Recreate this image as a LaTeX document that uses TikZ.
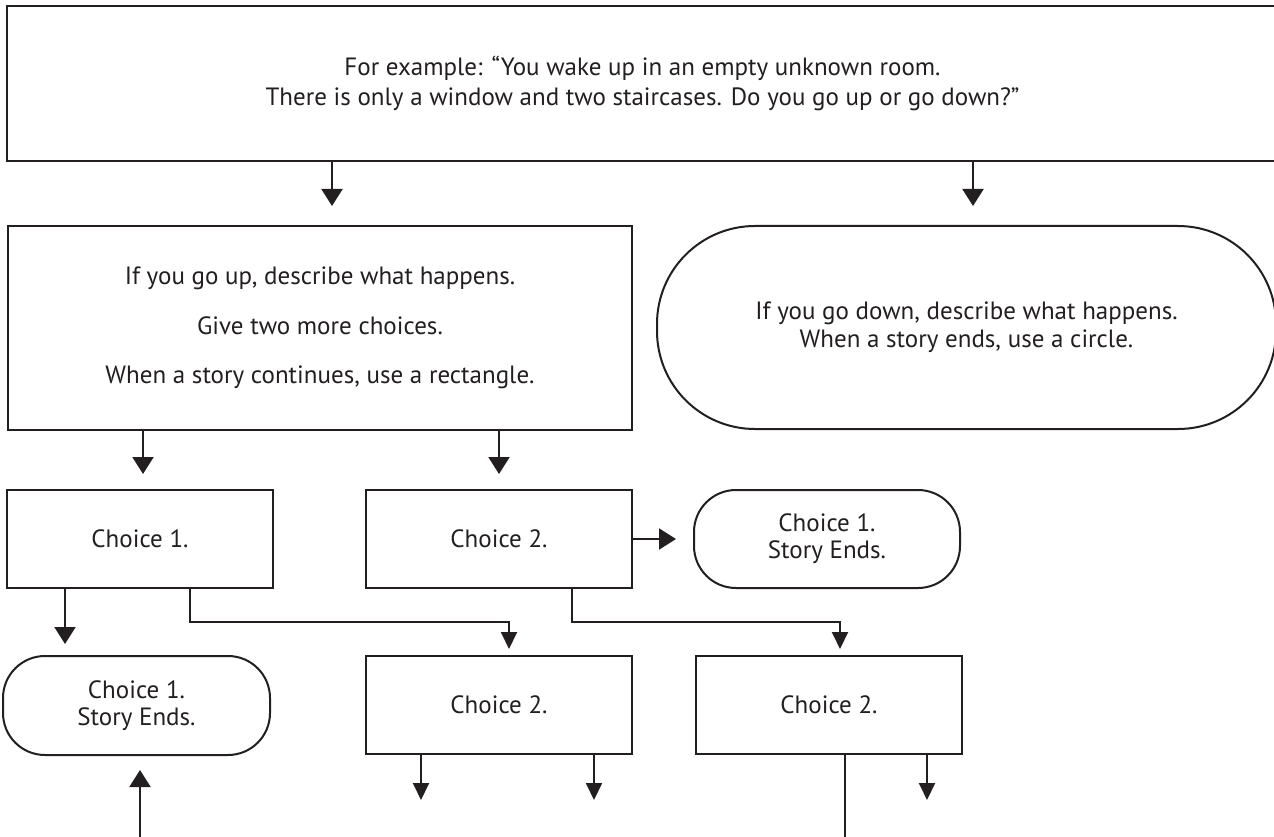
\documentclass[tikz,border=0pt]{standalone}
\usepackage{fontspec}
\setmainfont{PT Sans}
\usetikzlibrary{arrows.meta,calc}
\definecolor{ink}{HTML}{231F20}
\begin{document}
\begin{tikzpicture}[x=1pt,y=-1pt,
  every node/.style={font=\fontsize{25}{30}\selectfont, text=ink, align=center, inner sep=0pt},
  box/.style={draw=ink, line width=2pt, rectangle},
  endbox/.style={draw=ink, line width=2pt, rectangle, rounded corners=#1},
  arr/.style={draw=ink, line width=2pt, -{Triangle[width=21pt,length=17pt]}},
  arrs/.style={draw=ink, line width=2pt, -{Triangle[width=16pt,length=17pt]}},
  ln/.style={draw=ink, line width=2pt}]
\clip (0,0) rectangle (1274,837);
\fill[white] (0,0) rectangle (1274,837);
% nodes
\node[box, minimum width=1271pt, minimum height=155pt] (top) at (642.5,83.5)
  {For example: “You wake up in an empty unknown room.\\There is only a window and two staircases. Do you go up or go down?”};
\node[box, minimum width=624pt, minimum height=204pt, font=\fontsize{25}{49.5}\selectfont] (up) at (320,328)
  {If you go up, describe what happens.\\Give two more choices.\\When a story continues, use a rectangle.};
\node[endbox=98pt, minimum width=619pt, minimum height=203pt, font=\fontsize{25}{28}\selectfont] (down) at (966.5,327.5)
  {If you go down, describe what happens.\\When a story ends, use a circle.};
\node[box, minimum width=266pt, minimum height=98pt] (c1) at (140,539) {Choice 1.};
\node[box, minimum width=266pt, minimum height=98pt] (c2) at (499,539) {Choice 2.};
\node[endbox=42pt, minimum width=266pt, minimum height=98pt, font=\fontsize{25}{27}\selectfont] (e1) at (827,539) {Choice 1.\\Story Ends.};
\node[endbox=42pt, minimum width=267pt, minimum height=99pt, font=\fontsize{25}{27}\selectfont] (e2) at (136.5,705.5) {Choice 1.\\Story Ends.};
\node[box, minimum width=266pt, minimum height=98pt] (c3) at (499,705) {Choice 2.};
\node[box, minimum width=266pt, minimum height=98pt] (c4) at (829,705) {Choice 2.};
% helper coordinates
\coordinate (xa) at (332,0);
\coordinate (xb) at (973,0);
\coordinate (xc) at (143,0);
\coordinate (xd) at (499,0);
\coordinate (xe) at (65,0);
\coordinate (xf) at (190,0);
\coordinate (k1) at (509,622);
\coordinate (xg) at (572,0);
\coordinate (k2) at (840,622);
\coordinate (f1) at (421,800);
\coordinate (f2) at (594,800);
\coordinate (f3) at (845,840);
\coordinate (f4) at (927,800);
\coordinate (f5) at (140,840);
% connectors
\draw[arr, shorten >=19pt] (top.south -| xa) -- (up.north -| xa);
\draw[arr, shorten >=19pt] (top.south -| xb) -- (down.north -| xb);
\draw[arr, shorten >=15pt] (up.south -| xc) -- (c1.north -| xc);
\draw[arr, shorten >=15pt] (up.south -| xd) -- (c2.north -| xd);
\draw[arr, shorten >=17pt] (c2.east) -- (e1.west);
\draw[arr, shorten >=11pt] (c1.south -| xe) -- (e2.north -| xe);
\draw[arrs, shorten >=6pt] (c1.south -| xf) |- (k1) -- (c3.north -| k1);
\draw[arrs, shorten >=6pt] (c2.south -| xg) |- (k2) -- (c4.north -| k2);
\draw[arrs] (c3.south -| f1) -- (f1);
\draw[arrs] (c3.south -| f2) -- (f2);
\draw[ln] (c4.south -| f3) -- (f3);
\draw[arrs] (c4.south -| f4) -- (f4);
\draw[arr, shorten >=14pt] (f5) -- (e2.south -| f5);
\end{tikzpicture}
\end{document}
